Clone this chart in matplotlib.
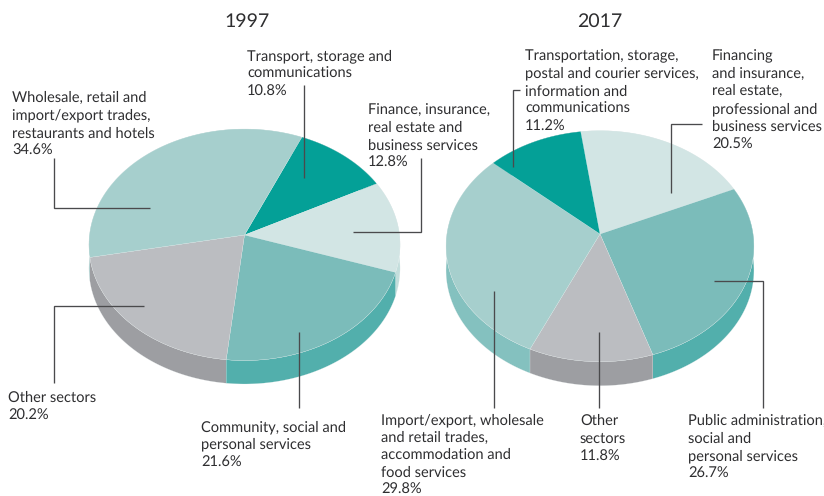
import numpy as np
import matplotlib
matplotlib.use('Agg')
import matplotlib.pyplot as plt
from matplotlib.patches import Polygon

# shares in %, clockwise from the start angle of each pie
values_1997 = [10.8, 12.8, 21.6, 20.2, 34.6]
values_2017 = [20.5, 26.7, 11.8, 29.8, 11.2]

# top colour, side colour
teal_dark = ('#04a097', '#03857f')
teal_pale = ('#d2e5e4', '#c3dedc')
teal_mid = ('#7bbcba', '#52afac')
grey = ('#bbbdc1', '#9d9ea2')
teal_soft = ('#a6cfcd', '#84c1bf')
colors_1997 = [teal_dark, teal_pale, teal_mid, grey, teal_soft]
colors_2017 = [teal_pale, teal_mid, grey, teal_soft, teal_dark]

TEXT = '#2e2e30'
LINE = '#4a4a4c'
FONT = 'Lato'
FS = 10.55

plt.rcParams['text.hinting'] = 'none'

fig = plt.figure(figsize=(8.24, 4.96), dpi=100)
ax = fig.add_axes([0, 0, 1, 1])
ax.set_xlim(0, 824)
ax.set_ylim(496, 0)
ax.axis('off')


def rim(theta, cx, cy, a, up, down):
    # circle seen in perspective, the centre of the pie sits above the middle of the ellipse
    b = 2 * up * down / (up + down)
    k = b / up - 1
    u = np.sin(theta)
    v = np.cos(theta)
    w = 1 + k * v
    return cx + a * u / w, cy - b * v / w


def pie3d(values, colors, start, cx, cy, a, up, down, depth):
    edges = start + np.cumsum([0] + values) / sum(values) * 360
    edges = np.radians(edges)
    # sides first, the back ones before the front ones
    order = np.argsort([-np.cos((edges[i] + edges[i + 1]) / 2) for i in range(len(values))])
    for i in order:
        th = np.linspace(edges[i], edges[i + 1], 80)
        x, y = rim(th, cx, cy, a, up, down)
        pts = np.r_[np.c_[x, y], np.c_[x, y + depth][::-1]]
        ax.add_patch(Polygon(pts, closed=True, fc=colors[i][1], ec='#e6eeee', lw=0.15, zorder=1))
    for i in range(len(values)):
        th = np.linspace(edges[i], edges[i + 1], 80)
        x, y = rim(th, cx, cy, a, up, down)
        pts = np.r_[[[cx, cy]], np.c_[x, y]]
        ax.add_patch(Polygon(pts, closed=True, fc=colors[i][0], ec='#e6eeee', lw=0.15, zorder=2))


def label(x, y, lines, dy=17.7):
    for i, s in enumerate(lines):
        ax.text(x, y + i * dy, s, fontsize=FS, family=FONT, color=TEXT, va='baseline', ha='left', zorder=5)


def leader(xs, ys):
    ax.plot(xs, ys, color=LINE, lw=0.95, solid_joinstyle='miter', solid_capstyle='butt', zorder=4)


pie3d(values_1997, colors_1997, 23.5, 244.5, 235, 155, 106, 125.5, 23.5)
pie3d(values_2017, colors_2017, -8, 600, 234, 153.1, 103.3, 127.7, 24)

ax.text(247, 27, '1997', fontsize=14, family=FONT, color=TEXT, ha='center', va='baseline')
ax.text(600, 27, '2017', fontsize=14, family=FONT, color=TEXT, ha='center', va='baseline')

label(247, 60, ['Transport, storage and', 'communications', '10.8%'])
label(12, 102, ['Wholesale, retail and', 'import/export trades,', 'restaurants and hotels', '34.6%'])
label(368, 114, ['Finance, insurance,', 'real estate and', 'business services', '12.8%'])
label(8, 402, ['Other sectors', '20.2%'])
label(201.5, 431, ['Community, social and', 'personal services', '21.6%'])

label(525, 60, ['Transportation, storage,', 'postal and courier services,', 'information and', 'communications', '11.2%'])
label(712, 60, ['Financing', 'and insurance,', 'real estate,', 'professional and', 'business services', '20.5%'])
label(381.5, 424.5, ['Import/export, wholesale', 'and retail trades,', 'accommodation and', 'food services', '29.8%'], dy=17.4)
label(580, 425, ['Other', 'sectors', '11.8%'])
label(688, 425, ['Public administration,', 'social and', 'personal services', '26.7%'])

leader([304, 304], [85, 178])
leader([353, 421, 421], [232, 232, 158])
leader([150, 54, 54], [208, 208, 158])
leader([144, 54, 54], [306, 306, 383])
leader([299.5, 299.5], [332, 408])

leader([520, 513, 513], [90, 90, 167])
leader([702, 671, 671], [124, 124, 193])
leader([714, 763.5, 763.5], [281, 281, 408])
leader([598.7, 598.7], [332, 408])
leader([493.7, 493.7], [291, 408])

fig.savefig('out.png', dpi=100)
